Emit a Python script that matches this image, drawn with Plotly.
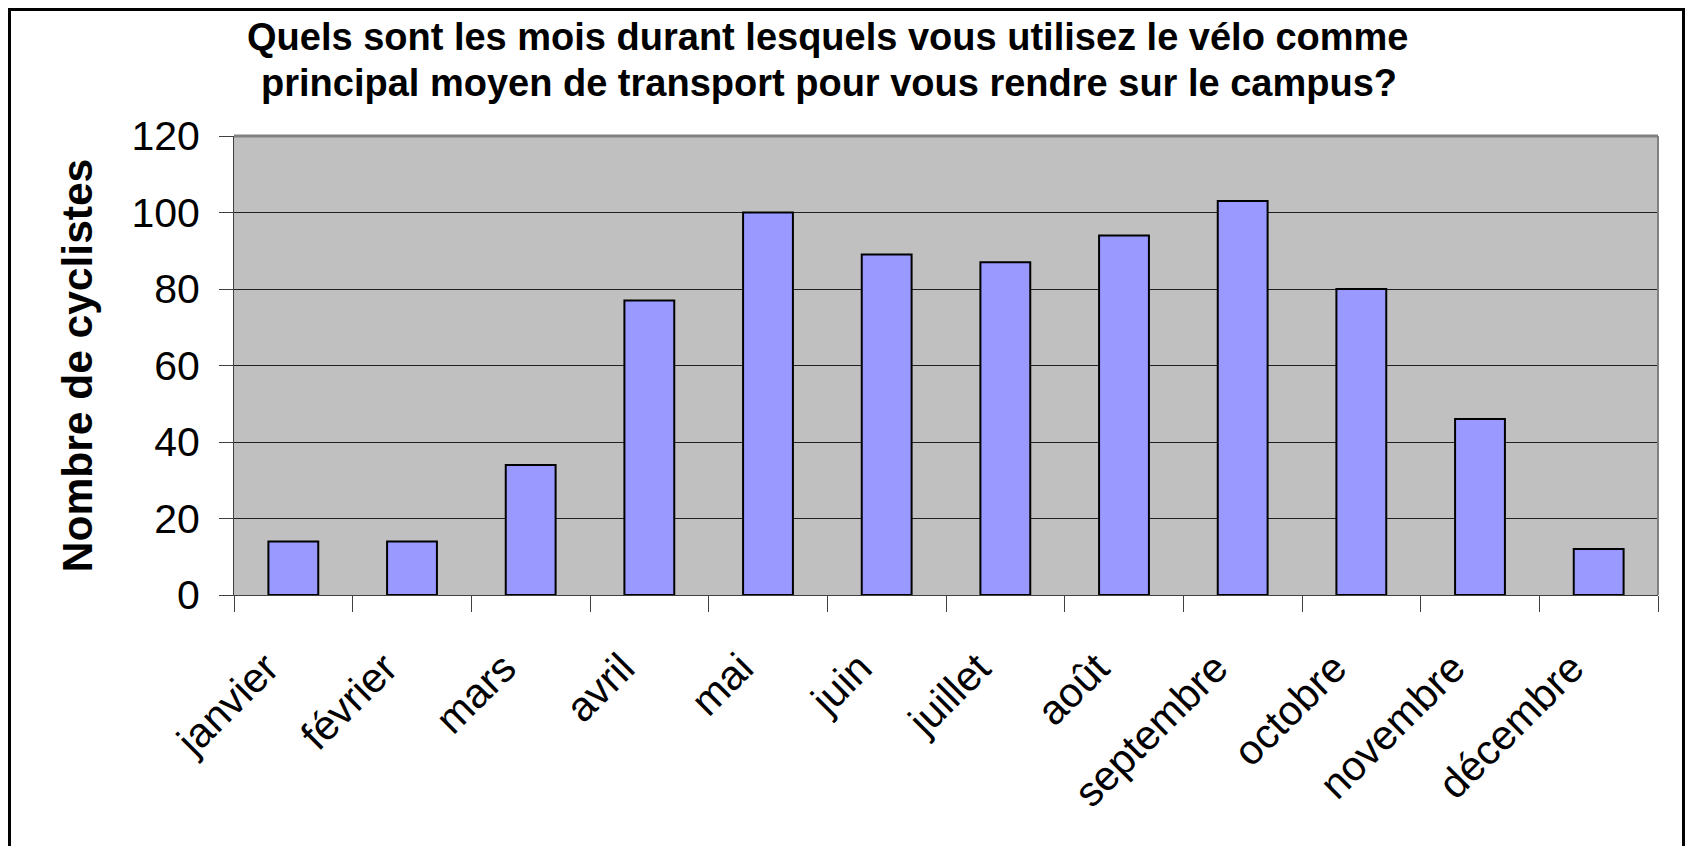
import plotly.graph_objects as go

months = ["janvier", "février", "mars", "avril", "mai", "juin", "juillet",
          "août", "septembre", "octobre", "novembre", "décembre"]
cyclistes = [14, 14, 34, 77, 100, 89, 87, 94, 103, 80, 46, 12]
y_ticks = [0, 20, 40, 60, 80, 100, 120]
title_line1 = "Quels sont les mois durant lesquels vous utilisez le vélo comme"
title_line2 = "principal moyen de transport pour vous rendre sur le campus?"
y_title = "Nombre de cyclistes"

OFF = 8  # browser body margin
W, H = 1693 - 2 * OFF, 854 - 2 * OFF
# plot area in screen pixels
SL, SR, ST, SB = 234, 1658, 136, 595
L, R, T, B = SL - OFF, SR - OFF, ST - OFF, SB - OFF
PW, PH = R - L, B - T


def px(x_screen):
    return (x_screen - OFF - L) / PW


def py(y_screen):
    return (B - (y_screen - OFF)) / PH


FONT = "Liberation Sans, Arial, sans-serif"

fig = go.Figure()
fig.add_trace(go.Bar(
    x=months, y=cyclistes,
    marker=dict(color="#9999FF", line=dict(color="black", width=2)),
    width=0.42,
))

fig.update_layout(
    width=W, height=H,
    margin=dict(l=L, r=W - R, t=T, b=H - B, pad=0, autoexpand=False),
    paper_bgcolor="white",
    plot_bgcolor="#C0C0C0",
    showlegend=False,
    font=dict(family=FONT, color="black"),
    xaxis=dict(
        type="category",
        tickson="boundaries",
        ticks="outside", ticklen=16, tickwidth=1, tickcolor="#404040",
        showline=True, linecolor="#404040", linewidth=1,
        showgrid=False,
        tickangle=-45,
        tickfont=dict(size=41.5, family=FONT),
        ticklabelstandoff=31,
        ticklabelshift=-27,
    ),
    yaxis=dict(
        range=[0, 120], tickvals=y_ticks,
        ticks="outside", ticklen=14, tickwidth=1, tickcolor="#404040",
        showline=True, linecolor="#404040", linewidth=1,
        showgrid=True, gridcolor="#202020", gridwidth=1,
        zeroline=False,
        tickfont=dict(size=41, family=FONT),
        ticklabelstandoff=11,
        title=dict(text="<b>" + y_title + "</b>", font=dict(size=42.5, family=FONT), standoff=25),
    ),
)

# plot area border (top/right grey)
fig.add_shape(type="line", xref="paper", yref="paper", x0=0, x1=1, y0=1, y1=1,
              line=dict(color="#808080", width=3), layer="above")
fig.add_shape(type="line", xref="paper", yref="paper", x0=1, x1=1, y0=0, y1=1,
              line=dict(color="#808080", width=2), layer="above")

# outer chart frame
fig.add_shape(type="rect", xref="paper", yref="paper",
              x0=px(9.5), x1=px(1683.5), y0=py(900), y1=py(9.5),
              line=dict(color="black", width=3), fillcolor="rgba(0,0,0,0)")

# title (two lines)
fig.add_annotation(text="<b>" + title_line1 + "</b>", xref="paper", yref="paper",
                   x=px(827), y=py(37), xanchor="center", yanchor="middle",
                   showarrow=False, font=dict(size=38, family=FONT))
fig.add_annotation(text="<b>" + title_line2 + "</b>", xref="paper", yref="paper",
                   x=px(829), y=py(83), xanchor="center", yanchor="middle",
                   showarrow=False, font=dict(size=38, family=FONT))

fig.write_html("out.html")
